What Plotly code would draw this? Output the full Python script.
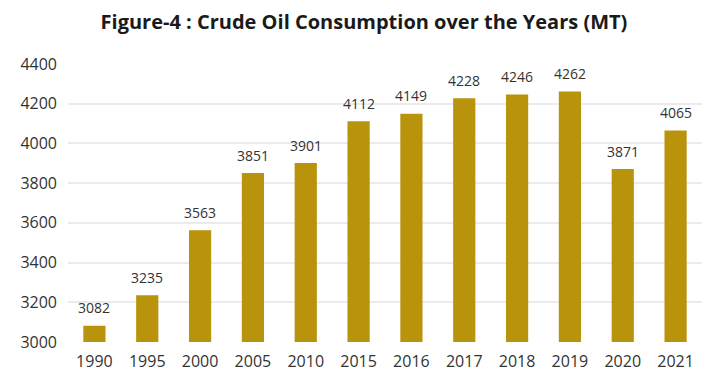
import plotly.graph_objects as go

years = ["1990", "1995", "2000", "2005", "2010", "2015", "2016", "2017", "2018", "2019", "2020", "2021"]
consumption = [3082, 3235, 3563, 3851, 3901, 4112, 4149, 4228, 4246, 4262, 3871, 4065]
y_ticks = [3000, 3200, 3400, 3600, 3800, 4000, 4200, 4400]

fig = go.Figure(go.Bar(
    x=years, y=consumption,
    marker=dict(color="#B8930B", line=dict(width=0)),
    hoverinfo="x+y",
))

for i, v in enumerate(consumption):
    fig.add_annotation(x=i, y=v, text=str(v), showarrow=False,
                       xref="x", yref="y",
                       yanchor="middle", yshift=18,
                       font=dict(size=14, color="#333333", family="Open Sans"))

fig.update_layout(
    width=712, height=378,
    margin=dict(l=58, r=18, t=56, b=44),
    paper_bgcolor="white", plot_bgcolor="white",
    title=dict(text="<b>Figure-4 : Crude Oil Consumption over the Years (MT)</b>",
               x=0.5, xanchor="center", y=0.963, yanchor="middle",
               font=dict(size=20, color="#1a1a1a", family="Open Sans")),
    bargap=0.58,
    showlegend=False,
    font=dict(family="Open Sans", color="#333333"),
)
fig.update_xaxes(type="category", categoryorder="array", categoryarray=years,
                 range=[-0.5, len(years) - 0.5],
                 showgrid=False, showline=False, ticks="", ticklabelstandoff=8,
                 tickfont=dict(size=16, color="#333333"))
fig.update_yaxes(range=[3000, 4400], tickvals=y_ticks, showgrid=True, gridcolor="#ebebeb", gridwidth=1.5,
                 zeroline=False, showline=False, ticks="", ticklabelstandoff=10,
                 tickfont=dict(size=16, color="#333333"))

fig.write_html("out.html")
